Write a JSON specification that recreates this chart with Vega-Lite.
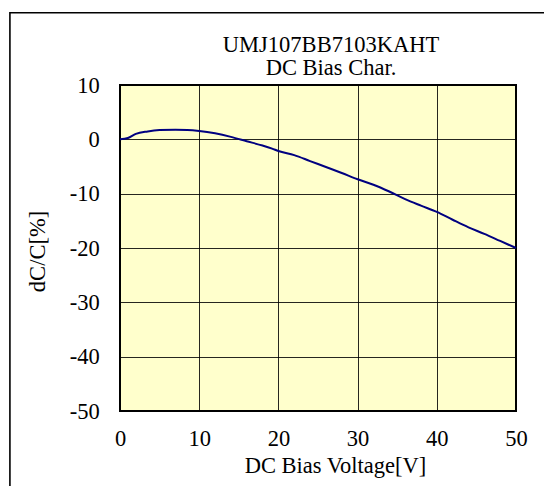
{
  "$schema": "https://vega.github.io/schema/vega-lite/v6.json",
  "width": 396,
  "height": 326,
  "autosize": {"type": "none"},
  "padding": {"left": 120, "top": 85, "right": 28, "bottom": 75},
  "background": "white",
  "config": {
    "view": {"fill": "#FFFFCC", "stroke": "#000000", "strokeWidth": 2},
    "font": "Liberation Serif"
  },
  "title": {
    "text": ["UMJ107BB7103KAHT", "DC Bias Char."],
    "font": "Liberation Serif",
    "fontSize": 22.5,
    "fontWeight": "normal",
    "color": "#000000",
    "anchor": "middle",
    "dx": 13,
    "dy": 99,
    "lineHeight": 23.5,
    "baseline": "bottom",
    "offset": 8
  },
  "data": {
    "values": [
      {"v": 0, "d": 0},
      {"v": 1, "d": 0.25},
      {"v": 2, "d": 1.0},
      {"v": 3.5, "d": 1.45},
      {"v": 5, "d": 1.7},
      {"v": 7, "d": 1.78},
      {"v": 8.5, "d": 1.73},
      {"v": 10, "d": 1.54},
      {"v": 12, "d": 1.1},
      {"v": 14, "d": 0.45},
      {"v": 16, "d": -0.35},
      {"v": 18, "d": -1.15},
      {"v": 19.2, "d": -1.7},
      {"v": 20, "d": -2.15},
      {"v": 22, "d": -2.9},
      {"v": 24, "d": -4.0},
      {"v": 26, "d": -5.1},
      {"v": 28, "d": -6.2},
      {"v": 30, "d": -7.35},
      {"v": 32, "d": -8.35},
      {"v": 34, "d": -9.6},
      {"v": 36, "d": -11.0},
      {"v": 38, "d": -12.2},
      {"v": 40, "d": -13.35},
      {"v": 42, "d": -14.8},
      {"v": 44, "d": -16.2},
      {"v": 46, "d": -17.4},
      {"v": 48, "d": -18.7},
      {"v": 50, "d": -20}
    ]
  },
  "layer": [
    {
      "data": {"values": [{}]},
      "mark": {"type": "rect", "fillOpacity": 0, "stroke": "#000000", "strokeWidth": 1.6, "clip": false},
      "encoding": {
        "x": {"datum": -13.9, "type": "quantitative", "scale": {"domain": [0, 50]}},
        "x2": {"datum": 60},
        "y": {"datum": 23.3, "type": "quantitative", "scale": {"domain": [-50, 10]}},
        "y2": {"datum": -70}
      }
    },
    {
      "mark": {"type": "line", "color": "#000080", "strokeWidth": 2, "interpolate": "monotone"},
      "encoding": {
        "x": {
          "field": "v",
          "type": "quantitative",
          "scale": {"domain": [0, 50]},
          "axis": {
            "values": [0, 10, 20, 30, 40, 50],
            "title": "DC Bias Voltage[V]",
            "grid": true,
            "gridColor": "#000000",
            "gridWidth": 1,
            "gridOpacity": 0.85,
            "domain": false,
            "ticks": false,
            "tickSize": 0,
            "labelFont": "Liberation Serif",
            "labelFontSize": 22.5,
            "labelColor": "#000000",
            "labelPadding": 34,
            "labelBaseline": "alphabetic",
            "labelFlush": false,
            "labelOverlap": false,
            "titleFont": "Liberation Serif",
            "titleFontSize": 22.5,
            "titleFontWeight": "normal",
            "titleColor": "#000000",
            "titleX": 215,
            "titleY": 61.6,
            "titleBaseline": "alphabetic",
            "titleAlign": "center"
          }
        },
        "y": {
          "field": "d",
          "type": "quantitative",
          "scale": {"domain": [-50, 10]},
          "axis": {
            "values": [10, 0, -10, -20, -30, -40, -50],
            "labelExpr": "datum.value < 0 ? '-' + abs(datum.value) : '' + datum.value",
            "title": "dC/C[%]",
            "grid": true,
            "gridColor": "#000000",
            "gridWidth": 1,
            "gridOpacity": 0.85,
            "domain": false,
            "ticks": false,
            "tickSize": 0,
            "labelFont": "Liberation Serif",
            "labelFontSize": 22.5,
            "labelColor": "#000000",
            "labelPadding": 20.7,
            "labelFlush": false,
            "labelOverlap": false,
            "titleFont": "Liberation Serif",
            "titleFontSize": 22.5,
            "titleFontWeight": "normal",
            "titleColor": "#000000",
            "titleX": -76,
            "titleY": 166,
            "titleAngle": 270,
            "titleBaseline": "alphabetic",
            "titleAlign": "center"
          }
        }
      }
    }
  ]
}
